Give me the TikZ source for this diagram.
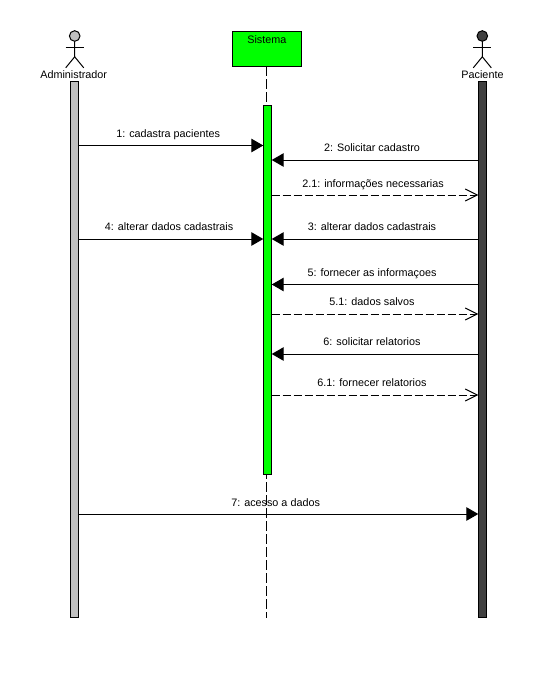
\documentclass[tikz,border=0pt]{standalone}
\usepackage{fontspec}
\setmainfont{Liberation Sans}
\usetikzlibrary{arrows.meta,positioning,calc}
\definecolor{objgreen}{RGB}{0,255,0}
\definecolor{admgray}{RGB}{192,192,192}
\definecolor{pacdark}{RGB}{64,64,64}
\begin{document}
\begin{tikzpicture}[
    x=1pt, y=-1pt,
    line width=1pt,
    txt/.style={font=\fontsize{10.8}{12}\selectfont, inner sep=0pt, text height=8pt, text depth=2pt},
    objbox/.style={rectangle, draw=black, fill=objgreen, minimum width=69pt, minimum height=35pt, outer sep=0pt},
    bar/.style={rectangle, draw=black, minimum width=8.4pt, inner sep=0pt, outer sep=0pt},
    head/.style={circle, draw=black, minimum size=10.6pt, inner sep=0pt, outer sep=0pt},
    lifeline/.style={dash pattern=on 10pt off 3pt},
    arr/.style={-{Triangle[length=12pt,width=13.5pt]}},
    darr/.style={-{Straight Barb[length=12pt,width=12pt]}, dash pattern=on 8pt off 3pt}
]
\useasboundingbox (0,0) rectangle (559,690);
\fill[white] (0,0) rectangle (559,690);

% objects
\node[objbox] (sistema) at (266.8,48.8) {};
\node[txt, below=4pt of sistema.north] (sistemalbl) {Sistema};
\coordinate (lifeend) at (266.3,618);
\draw[lifeline] (sistema.south -| lifeend) -- (lifeend);

\node[bar, fill=admgray, minimum height=536.7pt] (admbar) at (74.7,349.6) {};
\node[bar, fill=objgreen, minimum height=369pt] (sisbar) at (267.5,289.8) {};
\node[bar, fill=pacdark, minimum height=536.7pt] (pacbar) at (482.5,349.6) {};

% actors
\node[head, fill=admgray] (admhead) at (74.7,36) {};
\draw (admhead.south) -- ++(0,15.5) coordinate (admhip) -- ++(-9,11) coordinate (admfootl);
\draw (admhip) -- ++(9,11) coordinate (admfootr);
\draw (admhead.south) ++(-9,6) coordinate (admarml) -- ++(18,0) coordinate (admarmr);
\node[txt] (admlbl) at (73.7,75.5) {Administrador};

\node[head, fill=pacdark] (pachead) at (482.3,36) {};
\draw (pachead.south) -- ++(0,15.5) coordinate (pachip) -- ++(-9,11) coordinate (pacfootl);
\draw (pachip) -- ++(9,11) coordinate (pacfootr);
\draw (pachead.south) ++(-9,6) coordinate (pacarml) -- ++(18,0) coordinate (pacarmr);
\node[txt] (paclbl) at (482.5,75.5) {Paciente};

% messages
\coordinate (m1) at (0,145.5);
\coordinate (m2) at (0,160);
\coordinate (m21) at (0,195);
\coordinate (m3) at (0,239);
\coordinate (m5) at (0,284.5);
\coordinate (m51) at (0,314);
\coordinate (m6) at (0,354);
\coordinate (m61) at (0,395);
\coordinate (m7) at (0,514);

\draw[arr] (admbar.east |- m1) -- node[txt, above=6pt, xshift=-3pt] {1: cadastra pacientes} (sisbar.west |- m1);
\draw[arr] (pacbar.west |- m2) -- node[txt, above=6pt, xshift=-3pt] {2: Solicitar cadastro} (sisbar.east |- m2);
\draw[darr] (sisbar.east |- m21) -- node[txt, above=5.5pt, xshift=-2pt] {2.1: informações necessarias} (pacbar.west |- m21);
\draw[arr] (admbar.east |- m3) -- node[txt, above=6pt, xshift=-2pt] {4: alterar dados cadastrais} (sisbar.west |- m3);
\draw[arr] (pacbar.west |- m3) -- node[txt, above=6pt, xshift=-3pt] {3: alterar dados cadastrais} (sisbar.east |- m3);
\draw[arr] (pacbar.west |- m5) -- node[txt, above=6pt, xshift=-3pt] {5: fornecer as informaçoes} (sisbar.east |- m5);
\draw[darr] (sisbar.east |- m51) -- node[txt, above=6pt, xshift=-3pt] {5.1: dados salvos} (pacbar.west |- m51);
\draw[arr] (pacbar.west |- m6) -- node[txt, above=6pt, xshift=-3pt] {6: solicitar relatorios} (sisbar.east |- m6);
\draw[darr] (sisbar.east |- m61) -- node[txt, above=6pt, xshift=-3pt] {6.1: fornecer relatorios} (pacbar.west |- m61);
\draw[arr] (admbar.east |- m7) -- node[txt, above=5pt, xshift=-3pt] {7: acesso a dados} (pacbar.west |- m7);
\end{tikzpicture}
\end{document}
